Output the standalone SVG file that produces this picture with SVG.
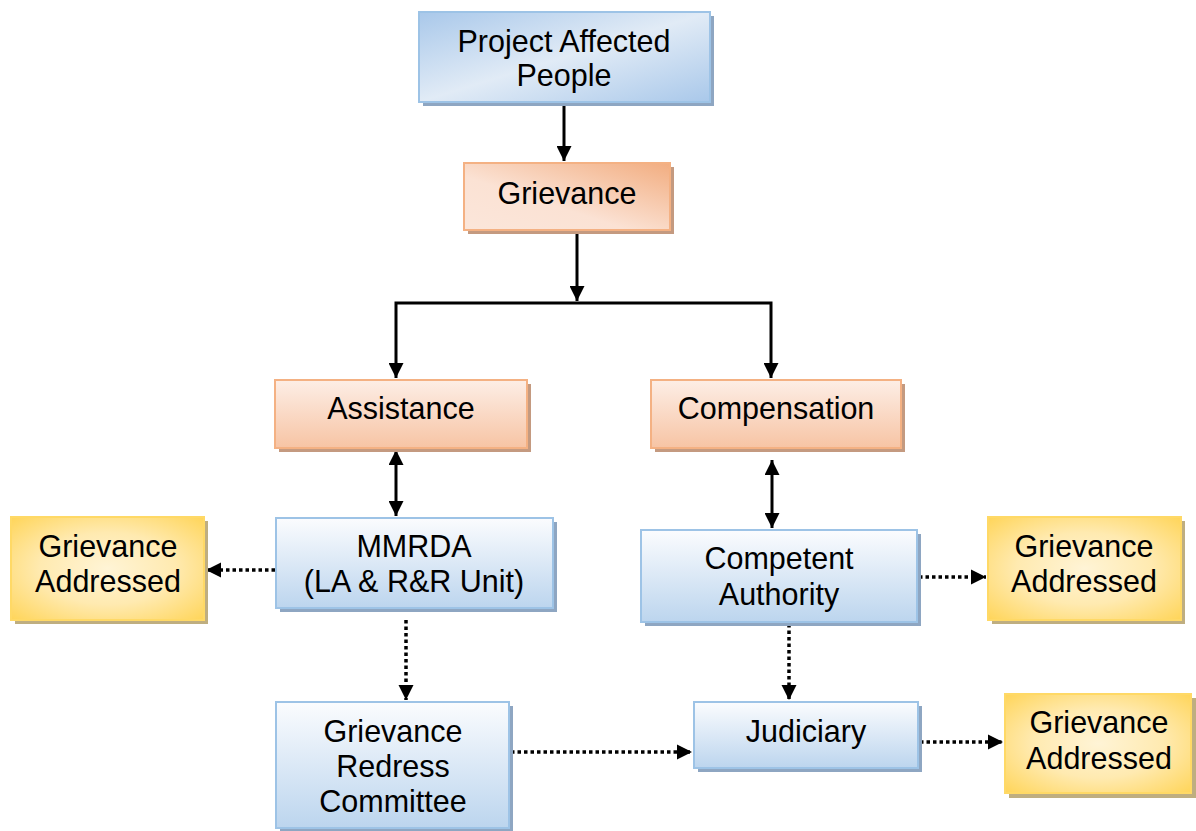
<svg xmlns="http://www.w3.org/2000/svg" width="1196" height="831" viewBox="0 0 1196 831">
<defs>
<linearGradient id="gBlueDiag" x1="0" y1="0" x2="1" y2="1">
<stop offset="0" stop-color="#a9c8ea"/><stop offset="0.5" stop-color="#e1ebf6"/><stop offset="1" stop-color="#a9c8ea"/>
</linearGradient>
<linearGradient id="gBlue" x1="0" y1="0" x2="0" y2="1">
<stop offset="0" stop-color="#fbfcfe"/><stop offset="1" stop-color="#bcd5ee"/>
</linearGradient>
<linearGradient id="gOrangeDiag" x1="1" y1="0" x2="0" y2="1">
<stop offset="0" stop-color="#f2ad80"/><stop offset="0.6" stop-color="#fbe2d4"/><stop offset="1" stop-color="#fbe6da"/>
</linearGradient>
<linearGradient id="gOrange" x1="0" y1="0" x2="0" y2="1">
<stop offset="0" stop-color="#fdeee6"/><stop offset="1" stop-color="#f7c4a4"/>
</linearGradient>
<radialGradient id="gYellow" cx="0.5" cy="0.5" r="0.7">
<stop offset="0" stop-color="#fff4d6"/><stop offset="0.5" stop-color="#ffeab0"/><stop offset="1" stop-color="#ffd55a"/>
</radialGradient>
<marker id="ah" viewBox="0 0 10 10" refX="10" refY="5" markerWidth="5" markerHeight="5" orient="auto-start-reverse" markerUnits="strokeWidth">
<path d="M0,0 L10,5 L0,10 z" fill="#000"/>
</marker>
<marker id="ahd" viewBox="0 0 10 10" refX="10" refY="5" markerWidth="4.3" markerHeight="4.3" orient="auto-start-reverse" markerUnits="strokeWidth">
<path d="M0,0 L10,5 L0,10 z" fill="#000"/>
</marker>
</defs>
<style>
.txt{font-family:"Liberation Sans",Arial,sans-serif;font-size:30.5px;fill:#000;text-anchor:middle}
.blue{stroke:#9dc3e6;stroke-width:2}
.orange{stroke:#f4b183;stroke-width:2}
.yellow{stroke:#ffd966;stroke-width:2}
.shB{fill:#8ea6c2}
.shO{fill:#c49a80}
.shY{fill:#bfae80}
.ln{stroke:#000;stroke-width:3;fill:none}
.dot{stroke:#000;stroke-width:3.5;fill:none;stroke-dasharray:3.5 3}
</style>
<rect width="1196" height="831" fill="#fff"/>

<g id="connectors">
<line class="ln" x1="564" y1="102" x2="564" y2="161" marker-end="url(#ah)"/>
<line class="ln" x1="577" y1="231" x2="577" y2="301" marker-end="url(#ah)"/>
<polyline class="ln" points="396,378 396,303 771,303 771,378" marker-start="url(#ah)" marker-end="url(#ah)"/>
<line class="ln" x1="396" y1="450" x2="396" y2="516" marker-start="url(#ah)" marker-end="url(#ah)"/>
<line class="ln" x1="772" y1="460" x2="772" y2="528" marker-start="url(#ah)" marker-end="url(#ah)"/>
<line class="dot" x1="275" y1="570" x2="206" y2="570" marker-end="url(#ahd)"/>
<line class="dot" x1="919" y1="577" x2="986" y2="577" marker-end="url(#ahd)"/>
<line class="dot" x1="406" y1="620" x2="406" y2="700" marker-end="url(#ahd)"/>
<line class="dot" x1="789" y1="624" x2="789" y2="700" marker-end="url(#ahd)"/>
<line class="dot" x1="511" y1="752" x2="692" y2="752" marker-end="url(#ahd)"/>
<line class="dot" x1="920" y1="742" x2="1003" y2="742" marker-end="url(#ahd)"/>
</g>

<g id="pap">
<rect class="shB" x="423" y="16" width="291" height="90"/>
<rect class="blue" x="419" y="12" width="291" height="90" fill="url(#gBlueDiag)"/>
<text class="txt" x="564" y="52">Project Affected</text>
<text class="txt" x="564" y="86">People</text>
</g>

<g id="grievance">
<rect class="shO" x="468" y="167" width="206" height="67"/>
<rect class="orange" x="464" y="163" width="206" height="67" fill="url(#gOrangeDiag)"/>
<text class="txt" x="567" y="204">Grievance</text>
</g>

<g id="assistance">
<rect class="shO" x="279" y="384" width="252" height="68"/>
<rect class="orange" x="275" y="380" width="252" height="68" fill="url(#gOrange)"/>
<text class="txt" x="401" y="419">Assistance</text>
</g>

<g id="compensation">
<rect class="shO" x="655" y="384" width="250" height="68"/>
<rect class="orange" x="651" y="380" width="250" height="68" fill="url(#gOrange)"/>
<text class="txt" x="776" y="419">Compensation</text>
</g>

<g id="mmrda">
<rect class="shB" x="280" y="522" width="277" height="90"/>
<rect class="blue" x="276" y="518" width="277" height="90" fill="url(#gBlue)"/>
<text class="txt" x="414" y="557">MMRDA</text>
<text class="txt" x="414" y="592">(LA &amp; R&amp;R Unit)</text>
</g>

<g id="competent">
<rect class="shB" x="645" y="534" width="276" height="92"/>
<rect class="blue" x="641" y="530" width="276" height="92" fill="url(#gBlue)"/>
<text class="txt" x="779" y="569">Competent</text>
<text class="txt" x="779" y="605">Authority</text>
</g>

<g id="ga-left">
<rect class="shY" x="15" y="521" width="193" height="103"/>
<rect class="yellow" x="11" y="517" width="193" height="103" fill="url(#gYellow)"/>
<text class="txt" x="108" y="557">Grievance</text>
<text class="txt" x="108" y="592">Addressed</text>
</g>

<g id="ga-right">
<rect class="shY" x="992" y="521" width="193" height="103"/>
<rect class="yellow" x="988" y="517" width="193" height="103" fill="url(#gYellow)"/>
<text class="txt" x="1084" y="557">Grievance</text>
<text class="txt" x="1084" y="592">Addressed</text>
</g>

<g id="grc">
<rect class="shB" x="280" y="706" width="233" height="126"/>
<rect class="blue" x="276" y="702" width="233" height="126" fill="url(#gBlue)"/>
<text class="txt" x="393" y="742">Grievance</text>
<text class="txt" x="393" y="777">Redress</text>
<text class="txt" x="393" y="812">Committee</text>
</g>

<g id="judiciary">
<rect class="shB" x="698" y="706" width="224" height="66"/>
<rect class="blue" x="694" y="702" width="224" height="66" fill="url(#gBlue)"/>
<text class="txt" x="806" y="742">Judiciary</text>
</g>

<g id="ga-bottom">
<rect class="shY" x="1009" y="698" width="187" height="100"/>
<rect class="yellow" x="1005" y="694" width="186" height="99" fill="url(#gYellow)"/>
<text class="txt" x="1099" y="733">Grievance</text>
<text class="txt" x="1099" y="769">Addressed</text>
</g>
</svg>
